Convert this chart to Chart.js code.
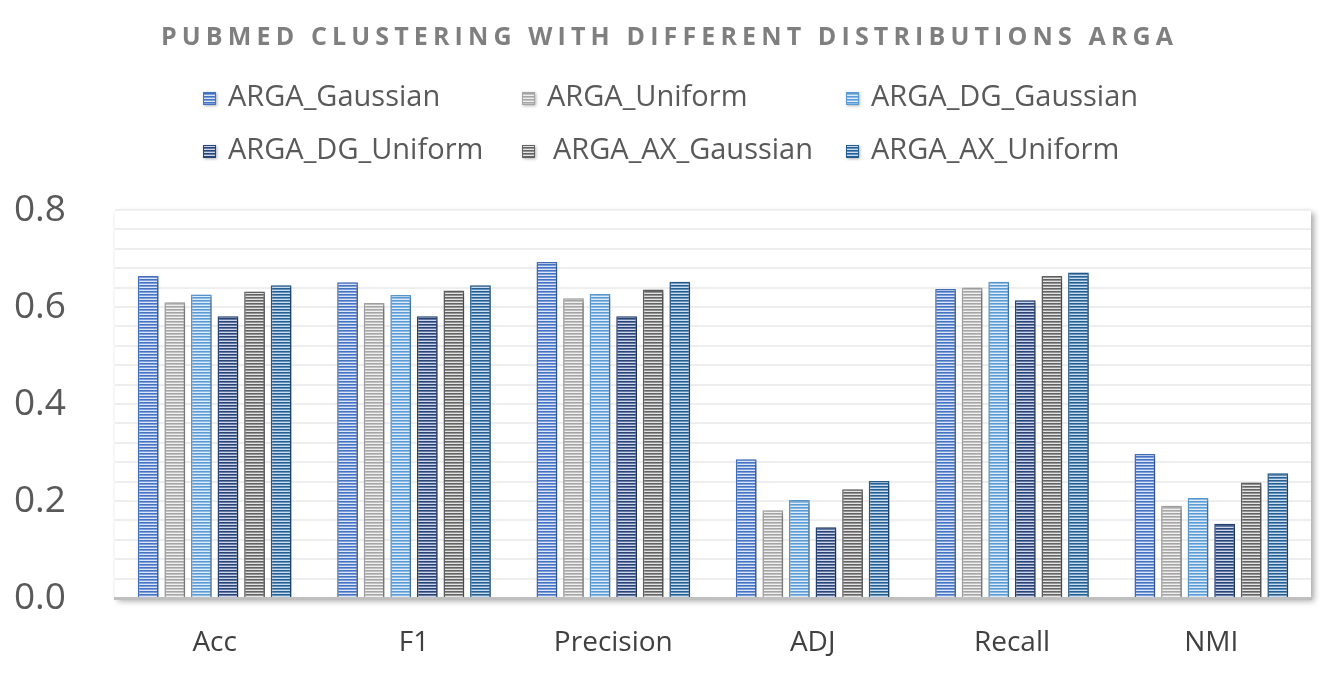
<!DOCTYPE html>
<html><head><meta charset="utf-8">
<script src="https://cdn.jsdelivr.net/npm/chart.js@4.4.1/dist/chart.umd.min.js"></script>
<style>html,body{margin:0;padding:0;background:#fff;}#wrap{width:1334px;height:675px;position:relative;}</style>
</head><body><div id="wrap"><canvas id="c"></canvas></div>
<script>
const titleText = 'PUBMED CLUSTERING WITH DIFFERENT DISTRIBUTIONS ARGA';
const categories = ['Acc', 'F1', 'Precision', 'ADJ', 'Recall', 'NMI'];
const seriesNames = ['ARGA_Gaussian', 'ARGA_Uniform', 'ARGA_DG_Gaussian', 'ARGA_DG_Uniform', 'ARGA_AX_Gaussian', 'ARGA_AX_Uniform'];
const argaGaussian   = [0.664, 0.651, 0.693, 0.286, 0.637, 0.297];
const argaUniform    = [0.610, 0.608, 0.618, 0.181, 0.640, 0.190];
const argaDgGaussian = [0.626, 0.625, 0.627, 0.202, 0.652, 0.206];
const argaDgUniform  = [0.581, 0.581, 0.581, 0.146, 0.614, 0.153];
const argaAxGaussian = [0.632, 0.634, 0.636, 0.224, 0.664, 0.238];
const argaAxUniform  = [0.645, 0.645, 0.652, 0.241, 0.671, 0.257];
const yTickLabels = ['0.0', '0.2', '0.4', '0.6', '0.8'];

const seriesValues = [argaGaussian, argaUniform, argaDgGaussian, argaDgUniform, argaAxGaussian, argaAxUniform];
const darkColors  = ['#4472C4', '#A5A5A5', '#5B9BD5', '#264478', '#636363', '#255E91'];
const lightColors = ['#DCE5F5', '#F0F0F0', '#DEECF8', '#CCD5EA', '#E4E4E4', '#C8DDF0'];
const midColors   = ['#7C9DD6', '#C2C2C2', '#8DBAE3', '#6678A0', '#939393', '#6690B8'];

function stripe(i) {
  const c = document.createElement('canvas'); c.width = 4; c.height = 3;
  const x = c.getContext('2d');
  x.fillStyle = lightColors[i]; x.fillRect(0, 0, 4, 3);
  x.fillStyle = darkColors[i]; x.fillRect(0, 0, 4, 1);
  x.fillStyle = midColors[i]; x.fillRect(0, 1, 4, 1);
  return x.createPattern(c, 'repeat');
}
const patterns = seriesNames.map((_, i) => stripe(i));

const FONT = '"Open Sans", "Noto Sans", sans-serif';

const plotBoxPlugin = {
  id: 'plotBox',
  beforeDraw(chart) {
    const {ctx, chartArea: a} = chart;
    ctx.save();
    ctx.shadowColor = 'rgba(0,0,0,0.35)';
    ctx.shadowBlur = 6; ctx.shadowOffsetX = 3; ctx.shadowOffsetY = 3;
    ctx.fillStyle = '#ffffff';
    ctx.fillRect(a.left, a.top, a.right - a.left, a.bottom - a.top);
    ctx.restore();
    ctx.save();
    ctx.fillStyle = '#ffffff';
    ctx.fillRect(a.left, a.top, a.right - a.left, a.bottom - a.top);
    ctx.restore();
  }
};

const barShadowPlugin = {
  id: 'barShadow',
  beforeDatasetsDraw(chart) {
    const ctx = chart.ctx;
    ctx.save();
    ctx.shadowColor = 'rgba(0,0,0,0.4)';
    ctx.shadowBlur = 5; ctx.shadowOffsetX = 2; ctx.shadowOffsetY = 2;
  },
  afterDatasetsDraw(chart) { chart.ctx.restore(); }
};

const titleLegendPlugin = {
  id: 'titleLegend',
  afterDraw(chart) {
    const ctx = chart.ctx;
    ctx.save();
    // title
    ctx.font = 'bold 25px ' + FONT;
    ctx.fillStyle = '#7F7F7F';
    ctx.textBaseline = 'middle';
    ctx.textAlign = 'left';
    const targetW = 1012;
    ctx.letterSpacing = '0px';
    const w0 = ctx.measureText(titleText).width;
    const ls = (targetW - w0) / (titleText.length - 1);
    ctx.letterSpacing = ls + 'px';
    ctx.fillText(titleText, chart.width / 2 - targetW / 2, 38);
    ctx.letterSpacing = '0px';
    // legend
    const colX = [203, 522, 846];
    const rowY = [98, 151];
    ctx.font = '29px ' + FONT;
    chart.data.datasets.forEach((ds, i) => {
      const cx = colX[i % 3], cy = rowY[Math.floor(i / 3)];
      ctx.save();
      ctx.shadowColor = 'rgba(0,0,0,0.3)'; ctx.shadowBlur = 3; ctx.shadowOffsetX = 1; ctx.shadowOffsetY = 1;
      ctx.fillStyle = ds.backgroundColor;
      ctx.fillRect(cx, cy - 6, 13, 13);
      ctx.restore();
      ctx.strokeStyle = darkColors[i]; ctx.lineWidth = 1;
      ctx.strokeRect(cx + 0.5, cy - 5.5, 12, 12);
      ctx.fillStyle = '#595959';
      ctx.fillText(ds.label, cx + 25 + (i === 4 ? 6 : 0), cy);
    });
    ctx.restore();
  }
};

const datasets = seriesNames.map((name, i) => ({
  label: name,
  data: seriesValues[i],
  backgroundColor: patterns[i],
  borderColor: darkColors[i],
  borderWidth: 1.5,
  categoryPercentage: 0.8,
  barPercentage: 0.78
}));

new Chart(document.getElementById('c'), {
  type: 'bar',
  data: {labels: categories, datasets},
  plugins: [plotBoxPlugin, barShadowPlugin, titleLegendPlugin],
  options: {
    responsive: true,
    maintainAspectRatio: false,
    animation: false,
    layout: {padding: {top: 210, right: 23, left: 0, bottom: 0}},
    plugins: {legend: {display: false}, title: {display: false}, tooltip: {enabled: false}},
    scales: {
      y: {
        min: 0, max: 0.8,
        afterFit(s) { s.width = 115; },
        ticks: {
          stepSize: 0.04, autoSkip: false, padding: 49,
          color: '#595959', font: {family: FONT, size: 37},
          callback(v) {
            const k = v * 5;
            return Math.abs(k - Math.round(k)) < 1e-6 ? yTickLabels[Math.round(k)] : '';
          }
        },
        grid: {color: '#EEEEEE', lineWidth: 2, drawTicks: false},
        border: {display: false}
      },
      x: {
        afterFit(s) { s.height = 77; },
        ticks: {color: '#404040', font: {family: FONT, size: 28}, padding: 28},
        grid: {display: false, drawTicks: false},
        border: {display: true, color: '#BFBFBF', width: 3}
      }
    }
  }
});
</script></body></html>
